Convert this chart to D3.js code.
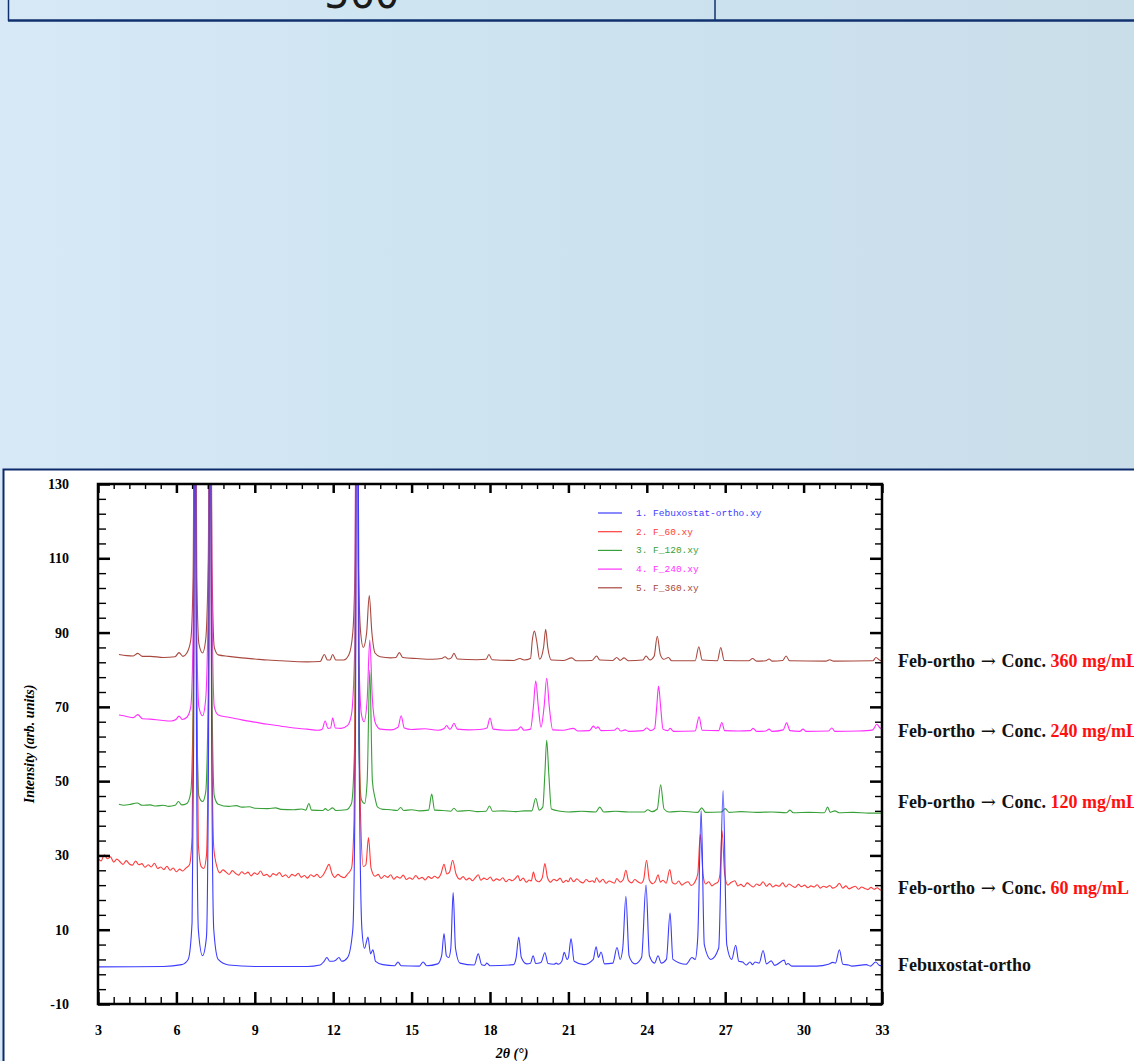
<!DOCTYPE html>
<html>
<head>
<meta charset="utf-8">
<script src="https://cdn.jsdelivr.net/npm/d3@7"></script>
<style>
  html, body { margin: 0; padding: 0; overflow: hidden; background: #d2e6f3; }
</style>
</head>
<body>
<div id="chart-area"></div>
<script>
// ---- data: [2theta, intensity] ----
const febOrtho = [[3,0],[5.5,0.1],[6.2,0.6],[6.45,2],[6.6,12],[6.66,60],[6.71,190],[6.77,60],[6.84,10],[7.0,3],[7.15,8],[7.23,60],[7.29,180],[7.35,60],[7.43,10],[7.6,2],[8,0.5],[9,0.1],[11,0.1],[11.5,0.5],[11.65,1.5],[11.76,2.5],[11.87,1.5],[12.0,1.5],[12.1,1.8],[12.22,2.5],[12.33,1.5],[12.55,2.5],[12.75,10],[12.85,60],[12.92,240],[12.99,60],[13.1,10],[13.2,5],[13.33,8],[13.43,3.5],[13.52,4.6],[13.62,1.5],[13.9,0.6],[14.35,0.3],[14.48,1.3],[14.6,0.3],[15.3,0.2],[15.44,1.3],[15.58,0.3],[16.0,0.8],[16.15,3],[16.24,9],[16.33,3],[16.42,2.5],[16.5,5],[16.59,20],[16.68,5],[16.85,1],[17.4,0.5],[17.55,3.5],[17.68,0.6],[17.8,0.4],[17.88,1],[18.0,0.3],[18.9,0.6],[19.0,2.5],[19.1,8],[19.2,2.5],[19.4,0.8],[19.55,1],[19.65,3],[19.75,0.9],[19.95,1.2],[20.1,3.8],[20.22,0.9],[20.45,0.7],[20.53,1],[20.62,0.7],[20.75,1.5],[20.84,3.9],[20.95,2],[21.0,2.5],[21.1,7.6],[21.22,1.5],[21.6,0.6],[21.95,2],[22.06,5.4],[22.15,2.5],[22.25,4],[22.38,0.8],[22.7,1],[22.86,5.2],[22.98,2],[23.08,5],[23.2,19],[23.32,3],[23.45,1.2],[23.55,0.8],[23.8,2.5],[23.97,22],[24.1,3],[24.3,1],[24.43,3],[24.55,1],[24.75,2],[24.89,14.5],[25.0,2],[25.5,0.7],[25.73,2.5],[25.85,2],[25.95,8],[26.08,42],[26.2,6],[26.45,2],[26.75,5],[26.92,47.5],[27.06,6],[27.25,2],[27.4,5.8],[27.52,1.5],[27.67,1.3],[27.8,0.5],[27.95,1.3],[28.05,0.6],[28.14,1.3],[28.3,1],[28.45,4.4],[28.58,0.8],[28.76,1.6],[28.9,0.4],[29.26,1.8],[29.33,0.6],[29.4,0.9],[29.55,0.2],[30.5,0.2],[30.95,0.7],[31.12,1.2],[31.22,1],[31.37,4.6],[31.5,0.7],[31.72,0.5],[31.85,0.2],[32.4,0.6],[32.55,0.2],[32.76,1.3],[32.9,0.4],[33,0.3]]

const f60 = [[3.0,29.2],[3.12,28.5],[3.24,30.2],[3.36,29.1],[3.48,29.6],[3.6,28.2],[3.72,29.0],[3.84,28.3],[3.96,27.6],[4.08,28.6],[4.2,27.7],[4.32,27.4],[4.44,28.5],[4.56,27.5],[4.68,27.8],[4.8,26.8],[4.92,27.5],[5.04,26.9],[5.16,27.9],[5.28,26.5],[5.4,26.9],[5.52,26.2],[5.64,27.1],[5.76,26.0],[5.88,26.6],[6.0,25.6],[6.12,26.3],[6.24,25.8],[6.36,26.6],[6.5,27.5],[6.6,35],[6.66,80],[6.71,180],[6.77,80],[6.84,33],[6.95,27],[7.05,26.5],[7.15,30],[7.23,70],[7.29,170],[7.35,70],[7.43,32],[7.55,27],[7.66,25.3],[7.78,26.1],[7.9,25.5],[8.02,24.9],[8.14,25.9],[8.26,25.2],[8.38,24.7],[8.5,25.6],[8.62,25.0],[8.74,25.5],[8.86,24.5],[8.98,25.3],[9.1,24.9],[9.22,25.8],[9.34,24.6],[9.46,24.9],[9.58,24.2],[9.7,25.1],[9.82,24.7],[9.94,25.4],[10.06,24.3],[10.18,24.8],[10.3,24.0],[10.42,24.9],[10.54,24.5],[10.66,25.2],[10.78,24.1],[10.9,24.6],[11.02,23.9],[11.14,24.8],[11.26,24.3],[11.38,24.9],[11.5,24.0],[11.6,24.6],[11.7,25.8],[11.84,27.6],[11.95,25.2],[12.06,24.1],[12.18,24.9],[12.3,24.3],[12.42,24.0],[12.55,25.0],[12.7,26.5],[12.8,40],[12.86,90],[12.92,230],[12.98,90],[13.05,40],[13.15,27],[13.25,27.5],[13.35,34.8],[13.45,26.5],[13.6,24.4],[13.72,24.9],[13.84,23.8],[13.96,24.6],[14.08,24.1],[14.2,24.8],[14.32,23.6],[14.44,24.3],[14.56,23.9],[14.68,24.7],[14.8,23.5],[14.92,24.0],[15.04,23.6],[15.16,24.6],[15.28,23.7],[15.4,24.1],[15.52,23.4],[15.64,24.3],[15.76,23.8],[15.88,24.4],[16.0,23.9],[16.12,25],[16.24,27.6],[16.35,25],[16.45,25.5],[16.57,28.7],[16.7,25],[16.85,23.6],[16.97,24.3],[17.09,23.4],[17.21,23.9],[17.33,23.2],[17.45,24.1],[17.55,24.8],[17.65,23.3],[17.77,23.9],[17.89,23.5],[18.01,24.2],[18.13,23.1],[18.25,23.7],[18.37,23.3],[18.49,24.0],[18.61,22.9],[18.73,23.6],[18.85,23.2],[18.97,23.8],[19.07,24.6],[19.15,23.2],[19.27,23.9],[19.39,22.8],[19.5,23.4],[19.58,23.1],[19.66,25.5],[19.75,23.4],[19.86,22.9],[20.0,24.0],[20.1,27.8],[20.2,24.0],[20.32,22.8],[20.44,23.6],[20.56,23.2],[20.68,23.9],[20.8,22.7],[20.92,23.3],[21.0,22.9],[21.08,24.0],[21.2,22.9],[21.32,23.7],[21.44,23.0],[21.56,22.6],[21.68,23.5],[21.8,22.9],[21.92,23.2],[22.0,22.7],[22.07,24.0],[22.2,22.8],[22.32,23.6],[22.44,22.5],[22.56,23.1],[22.68,22.8],[22.76,22.5],[22.85,23.8],[22.98,22.8],[23.1,23.5],[23.2,26.0],[23.3,23.2],[23.42,22.6],[23.54,23.5],[23.66,22.9],[23.78,22.5],[23.88,23.5],[23.99,28.7],[24.1,23.3],[24.22,22.4],[24.34,23.2],[24.43,24.8],[24.52,22.8],[24.62,23.3],[24.74,22.5],[24.88,26.2],[24.98,22.7],[25.1,22.3],[25.22,23.1],[25.34,22.0],[25.46,22.6],[25.58,22.9],[25.7,21.9],[25.82,22.6],[25.95,25],[26.05,35.7],[26.15,25],[26.25,22.3],[26.37,22.9],[26.49,21.8],[26.61,22.4],[26.72,22.8],[26.8,25],[26.88,36.6],[26.98,25],[27.1,22.0],[27.22,22.7],[27.37,23.2],[27.48,21.8],[27.6,22.2],[27.72,21.6],[27.84,22.6],[27.96,22.0],[28.08,21.5],[28.2,22.3],[28.32,21.9],[28.45,22.9],[28.58,21.7],[28.7,22.4],[28.82,21.5],[28.94,22.0],[29.06,21.7],[29.2,22.6],[29.32,21.5],[29.44,22.3],[29.56,21.8],[29.68,21.4],[29.8,22.2],[29.92,21.6],[30.04,22.0],[30.16,21.3],[30.28,21.8],[30.4,21.5],[30.52,22.1],[30.64,21.2],[30.76,21.7],[30.88,21.4],[31.0,21.9],[31.12,21.2],[31.25,21.6],[31.37,22.5],[31.5,21.2],[31.62,21.8],[31.74,21.0],[31.86,21.4],[31.98,21.7],[32.1,20.9],[32.22,21.5],[32.34,21.1],[32.46,20.8],[32.58,21.4],[32.7,20.9],[32.82,21.3],[32.94,20.7],[33.0,21.0]]

const f120 = [[3.8,43.8],[4.0,43.5],[4.2,43.7],[4.5,44.1],[4.7,43.5],[5.0,43.6],[5.2,43.3],[5.5,43.5],[5.7,43.2],[5.95,43.5],[6.08,44.5],[6.2,43.6],[6.4,44],[6.55,47],[6.64,70],[6.71,170],[6.78,70],[6.86,46],[7.0,44.5],[7.12,47],[7.22,75],[7.29,170],[7.36,75],[7.45,46],[7.6,43.8],[8.0,43.2],[8.3,43.4],[8.5,43.0],[8.8,43.1],[9.0,42.7],[9.5,42.6],[9.8,42.8],[10.0,42.4],[10.5,42.3],[10.8,42.5],[10.95,42.2],[11.07,44.0],[11.17,42.2],[11.6,42.1],[11.7,42.6],[11.8,42.1],[11.98,42.8],[12.1,42.1],[12.5,42.3],[12.7,44],[12.82,60],[12.9,200],[12.98,60],[13.08,45],[13.2,44],[13.3,50],[13.4,80],[13.5,50],[13.6,45.5],[13.7,43],[13.9,42.4],[14.2,42.3],[14.45,42.1],[14.58,42.9],[14.7,42.1],[15.0,42.3],[15.3,42.0],[15.65,42.2],[15.77,46.5],[15.88,42.2],[16.2,42.1],[16.5,41.9],[16.62,42.7],[16.75,41.9],[17.2,42.1],[17.5,41.8],[17.85,41.9],[17.98,43.3],[18.1,41.9],[18.5,42.0],[19.0,41.8],[19.3,42.0],[19.6,42.0],[19.75,45.4],[19.88,42.2],[20.02,43],[20.1,52],[20.17,61],[20.25,52],[20.35,42.5],[20.7,41.9],[21.0,41.7],[21.5,41.9],[22.05,41.7],[22.2,43.0],[22.35,41.7],[22.8,41.9],[23.3,41.7],[23.9,41.7],[24.04,42.3],[24.2,41.8],[24.4,42.5],[24.53,49],[24.66,42.5],[24.85,41.7],[25.3,41.9],[25.95,41.6],[26.1,42.8],[26.25,41.6],[26.85,41.7],[27.0,42.6],[27.15,41.6],[27.6,41.8],[28.2,41.6],[28.8,41.7],[29.35,41.5],[29.48,42.2],[29.6,41.5],[30.2,41.6],[30.8,41.5],[30.92,43],[31.02,41.6],[31.2,42],[31.35,41.5],[31.9,41.6],[32.5,41.4],[33,41.4]]

const f240 = [[3.8,67.8],[4.1,67.4],[4.35,67.1],[4.52,67.9],[4.7,66.8],[5.0,66.7],[5.4,66.4],[5.8,66.2],[5.98,66.6],[6.1,67.5],[6.22,66.6],[6.4,67.2],[6.55,70],[6.64,90],[6.71,180],[6.78,90],[6.86,70],[7.0,67.6],[7.12,72],[7.22,100],[7.29,180],[7.36,100],[7.45,70],[7.6,67.8],[8.0,67.2],[8.5,66.5],[9.0,65.9],[9.5,65.3],[10.0,64.8],[10.5,64.3],[11.0,64],[11.4,63.7],[11.58,64],[11.69,66.2],[11.8,64.2],[11.9,64.3],[11.98,67],[12.08,64.3],[12.3,64.2],[12.55,65],[12.7,68],[12.82,85],[12.9,200],[12.98,85],[13.08,68],[13.18,66],[13.3,72],[13.4,88],[13.5,72],[13.62,65.5],[13.8,64],[14.2,63.8],[14.48,64.5],[14.6,67.6],[14.72,64.3],[15.0,63.9],[15.5,64.1],[16.0,63.7],[16.25,64.2],[16.34,65],[16.45,64],[16.52,64.3],[16.62,65.6],[16.75,64],[17.2,63.8],[17.6,63.9],[17.88,64.3],[18.0,67],[18.12,64.0],[18.6,63.7],[19.05,63.8],[19.18,64.6],[19.3,63.7],[19.55,64],[19.66,70],[19.75,77],[19.85,70],[19.95,64.5],[20.07,70],[20.17,77.7],[20.27,70],[20.4,63.8],[20.8,63.7],[21.19,64.2],[21.35,63.5],[21.8,63.6],[21.96,64.8],[22.05,64.2],[22.13,64.6],[22.25,63.6],[22.75,63.7],[22.88,64.3],[23.0,63.5],[23.17,63.8],[23.3,63.4],[23.85,63.6],[24.0,64.3],[24.15,63.6],[24.3,64.2],[24.38,70],[24.45,75.6],[24.53,70],[24.62,64],[24.8,63.6],[24.9,64.2],[25.02,63.4],[25.85,63.5],[26.0,67.3],[26.12,63.7],[26.75,63.6],[26.87,65.8],[26.98,63.6],[27.5,63.5],[27.95,63.6],[28.07,64.2],[28.2,63.4],[28.55,63.5],[28.68,64],[28.8,63.4],[29.22,63.8],[29.35,65.7],[29.48,63.6],[29.85,63.4],[29.98,64],[30.1,63.4],[30.95,63.5],[31.08,64.3],[31.2,63.4],[32.1,63.5],[32.65,63.8],[32.8,65.3],[32.95,64.2],[33,64.3]]

const f360 = [[3.8,84.1],[4.1,83.8],[4.35,83.7],[4.52,84.4],[4.7,83.6],[5.0,83.6],[5.5,83.3],[5.95,83.5],[6.1,84.6],[6.25,83.6],[6.4,84.5],[6.55,88],[6.64,105],[6.71,200],[6.78,105],[6.86,87],[7.0,84.5],[7.12,88],[7.22,110],[7.29,200],[7.36,110],[7.45,86],[7.6,84],[8.0,83.6],[8.5,83.2],[9.0,82.9],[9.5,82.6],[10.0,82.4],[10.5,82.2],[11.0,82.1],[11.5,82.2],[11.66,84.1],[11.78,82.6],[11.88,82.6],[11.98,84.1],[12.1,82.6],[12.4,82.6],[12.6,84],[12.75,90],[12.84,110],[12.9,220],[12.96,110],[13.05,90],[13.15,86],[13.28,90],[13.38,100],[13.48,90],[13.6,84.5],[13.8,83.5],[14.2,83.2],[14.4,83.3],[14.53,84.6],[14.66,83.3],[15.2,83.0],[15.8,82.8],[16.15,83.0],[16.28,83.5],[16.4,82.9],[16.52,83.2],[16.62,84.4],[16.75,82.9],[17.5,82.7],[17.85,82.8],[17.96,84.1],[18.08,82.7],[18.9,82.5],[19.15,83.0],[19.3,82.6],[19.55,83],[19.62,88],[19.7,90.4],[19.78,88],[19.9,82.8],[20.05,86],[20.13,90.9],[20.21,86],[20.35,82.6],[20.8,82.5],[21.13,83.2],[21.3,82.4],[21.9,82.5],[22.08,83.7],[22.2,82.6],[22.7,82.5],[22.85,83.3],[22.98,82.5],[23.13,83.2],[23.3,82.4],[23.85,82.6],[23.97,83.7],[24.12,82.6],[24.28,83.6],[24.4,89],[24.52,84],[24.65,82.8],[24.83,83.3],[24.95,82.4],[25.85,82.4],[25.99,86.2],[26.12,82.6],[26.7,82.4],[26.83,86],[26.96,82.5],[27.9,82.4],[28.05,83],[28.2,82.3],[28.55,82.4],[28.68,82.9],[28.8,82.3],[29.2,82.5],[29.33,83.7],[29.46,82.4],[30.85,82.3],[31.0,82.7],[31.15,82.3],[32.65,82.4],[32.77,83.3],[32.9,82.6],[33,82.3]]

const xTicks = [3, 6, 9, 12, 15, 18, 21, 24, 27, 30, 33]
const yTicks = [-10, 10, 30, 50, 70, 90, 110, 130]
const legendLabels = ["1. Febuxostat-ortho.xy", "2. F_60.xy", "3. F_120.xy", "4. F_240.xy", "5. F_360.xy"]
const sampleNames = ["Feb-ortho", "Feb-ortho", "Feb-ortho", "Feb-ortho", "Febuxostat-ortho"]
const concLabels = ["360 mg/mL", "240 mg/mL", "120 mg/mL", "60 mg/mL", ""]

const COLORS = ["#3c3cff", "#ff3a3a", "#38a038", "#ff30ff", "#a8483f"]
const PLOT = { LEFT: 98, RIGHT: 882, TOP: 484, BOTTOM: 1004 }
const W = 1134, H = 1061

const svg = d3.select("#chart-area").append("svg")
  .attr("width", W)
  .attr("height", H)
  .style("display", "block")

// slide background
const defs = svg.append("defs")
const grad = defs.append("linearGradient").attr("id", "bg").attr("x1", 0).attr("x2", 1)
grad.append("stop").attr("offset", 0).attr("stop-color", "#d7e9f6")
grad.append("stop").attr("offset", 0.45).attr("stop-color", "#cde3f0")
grad.append("stop").attr("offset", 1).attr("stop-color", "#cadeea")
svg.append("rect").attr("width", W).attr("height", H).attr("fill", "url(#bg)")

// table fragment at the top (its text is cut by the page edge, as in the slide)
svg.append("text")
  .attr("x", 362).attr("y", 8)
  .attr("text-anchor", "middle")
  .attr("font-family", "'Liberation Sans Narrow', 'DejaVu Sans Condensed', sans-serif")
  .attr("font-size", 44)
  .attr("fill", "#1a1a1a")
  .text("360")
svg.append("line").attr("x1", 8.5).attr("x2", 8.5).attr("y1", 0).attr("y2", 21).attr("stroke", "#10306e").attr("stroke-width", 1.5)
svg.append("line").attr("x1", 715).attr("x2", 715).attr("y1", 0).attr("y2", 21).attr("stroke", "#10306e").attr("stroke-width", 1.5)
svg.append("line").attr("x1", 8).attr("x2", W).attr("y1", 20.5).attr("y2", 20.5).attr("stroke", "#10306e").attr("stroke-width", 2.5)

// white chart panel
svg.append("rect")
  .attr("x", 3.5).attr("y", 469.5)
  .attr("width", W + 10).attr("height", 620)
  .attr("fill", "#ffffff")
  .attr("stroke", "#0d2b6b").attr("stroke-width", 2)

const x = d3.scaleLinear().domain([3, 33]).range([PLOT.LEFT, PLOT.RIGHT])
const y = d3.scaleLinear().domain([-10, 130]).range([PLOT.BOTTOM, PLOT.TOP])

defs.append("clipPath").attr("id", "plot-clip")
  .append("rect")
  .attr("x", PLOT.LEFT).attr("y", PLOT.TOP)
  .attr("width", PLOT.RIGHT - PLOT.LEFT).attr("height", PLOT.BOTTOM - PLOT.TOP)

// traces, last series first so the blue one sits on top
const series = [febOrtho, f60, f120, f240, f360]
const line = d3.line().x(d => x(d[0])).y(d => y(d[1])).curve(d3.curveMonotoneX)
const traces = svg.append("g").attr("clip-path", "url(#plot-clip)")
for (let i = series.length - 1; i >= 0; i--) {
  traces.append("path")
    .datum(series[i])
    .attr("fill", "none")
    .attr("stroke", COLORS[i])
    .attr("stroke-width", 1.1)
    .attr("stroke-linejoin", "round")
    .attr("d", line)
}

// axes (ticks point inward)
const serif = "'Liberation Serif', 'Times New Roman', serif"
const xMinor = d3.range(3, 33.001, 0.6).filter(v => Math.abs(v / 3 - Math.round(v / 3)) > 0.01)
const yMinor = d3.range(-10, 130.001, 4).filter(v => (v + 10) % 20 !== 0)

function styleAxis(sel, width) {
  sel.select(".domain").remove()
  sel.selectAll("line").attr("stroke", "#000").attr("stroke-width", width)
}

const bottom = svg.append("g").attr("transform", `translate(0,${PLOT.BOTTOM})`)
  .call(d3.axisBottom(x).tickValues(xTicks).tickFormat(d => String(d)).tickSizeInner(-12).tickSizeOuter(0).tickPadding(21))
styleAxis(bottom, 2.5)
bottom.selectAll("text").attr("font-family", serif).attr("font-weight", "bold").attr("font-size", 14).attr("fill", "#000")

svg.append("g").attr("transform", `translate(0,${PLOT.BOTTOM})`)
  .call(d3.axisBottom(x).tickValues(xMinor).tickFormat("").tickSizeInner(-7).tickSizeOuter(0))
  .call(g => styleAxis(g, 1.4))

svg.append("g").attr("transform", `translate(0,${PLOT.TOP})`)
  .call(d3.axisTop(x).tickValues(xTicks).tickFormat("").tickSizeInner(-9).tickSizeOuter(0))
  .call(g => styleAxis(g, 2.5))
svg.append("g").attr("transform", `translate(0,${PLOT.TOP})`)
  .call(d3.axisTop(x).tickValues(xMinor).tickFormat("").tickSizeInner(-5).tickSizeOuter(0))
  .call(g => styleAxis(g, 1.4))

const left = svg.append("g").attr("transform", `translate(${PLOT.LEFT},0)`)
  .call(d3.axisLeft(y).tickValues(yTicks).tickFormat(d => String(d)).tickSizeInner(-12).tickSizeOuter(0).tickPadding(29))
styleAxis(left, 2.5)
left.selectAll("text").attr("font-family", serif).attr("font-weight", "bold").attr("font-size", 14).attr("fill", "#000")

svg.append("g").attr("transform", `translate(${PLOT.LEFT},0)`)
  .call(d3.axisLeft(y).tickValues(yMinor).tickFormat("").tickSizeInner(-8).tickSizeOuter(0))
  .call(g => styleAxis(g, 1.4))

svg.append("g").attr("transform", `translate(${PLOT.RIGHT},0)`)
  .call(d3.axisRight(y).tickValues(yTicks).tickFormat("").tickSizeInner(-12).tickSizeOuter(0))
  .call(g => styleAxis(g, 2.5))
svg.append("g").attr("transform", `translate(${PLOT.RIGHT},0)`)
  .call(d3.axisRight(y).tickValues(yMinor).tickFormat("").tickSizeInner(-7).tickSizeOuter(0))
  .call(g => styleAxis(g, 1.4))

// frame
svg.append("rect")
  .attr("x", PLOT.LEFT).attr("y", PLOT.TOP)
  .attr("width", PLOT.RIGHT - PLOT.LEFT).attr("height", PLOT.BOTTOM - PLOT.TOP)
  .attr("fill", "none").attr("stroke", "#000").attr("stroke-width", 2.5)

// axis titles
svg.append("text")
  .attr("x", (PLOT.LEFT + PLOT.RIGHT) / 2 + 22).attr("y", 1058)
  .attr("text-anchor", "middle")
  .attr("font-family", serif).attr("font-weight", "bold").attr("font-style", "italic").attr("font-size", 14)
  .text("2\u03B8 (\u00B0)")

svg.append("text")
  .attr("transform", `translate(34, ${(PLOT.TOP + PLOT.BOTTOM) / 2}) rotate(-90)`)
  .attr("text-anchor", "middle")
  .attr("font-family", serif).attr("font-weight", "bold").attr("font-style", "italic").attr("font-size", 14)
  .text("Intensity (arb. units)")

// legend
const legend = svg.append("g").attr("transform", "translate(598, 513)")
legendLabels.forEach((lab, i) => {
  const row = legend.append("g").attr("transform", `translate(0, ${i * 18.7})`)
  row.append("line").attr("x1", 0).attr("x2", 24).attr("y1", 0).attr("y2", 0)
    .attr("stroke", COLORS[i]).attr("stroke-width", 1.2)
  row.append("text")
    .attr("x", 38).attr("y", 3)
    .attr("font-family", "'Liberation Mono', 'DejaVu Sans Mono', monospace")
    .attr("font-size", 9.5)
    .attr("fill", COLORS[i])
    .text(lab)
})

// sample labels on the right, top to bottom (they run past the page edge, as in the slide)
const labelY = [667, 737, 808, 894, 971]
sampleNames.forEach((name, i) => {
  const t = svg.append("text")
    .attr("x", 898).attr("y", labelY[i])
    .attr("font-family", serif).attr("font-weight", "bold").attr("font-size", 18)
    .attr("fill", "#111")
  t.append("tspan").text(name)
  if (concLabels[i]) {
    t.append("tspan").attr("font-family", "'DejaVu Serif', serif").attr("font-weight", "normal")
      .attr("font-size", 18).text(" \u2192 ")
    t.append("tspan").text("Conc. ")
    t.append("tspan").attr("fill", "#ff1010").text(concLabels[i])
  }
})
</script>
</body>
</html>
